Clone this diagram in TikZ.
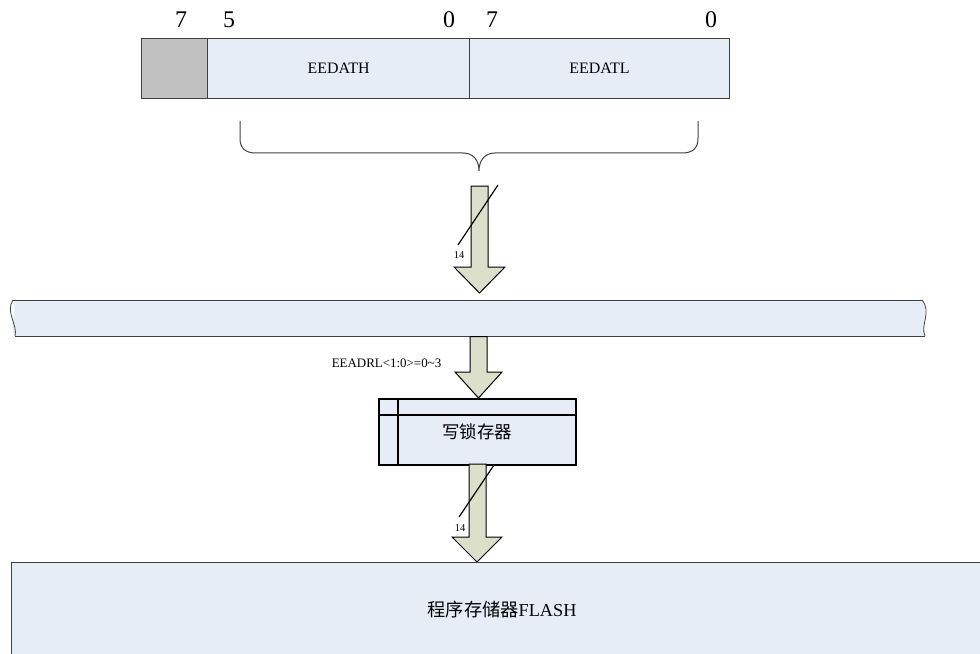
\documentclass[tikz,border=0pt]{standalone}
\usepackage{fontspec}
\setmainfont{Liberation Serif}
\newfontfamily\cjk{Noto Sans CJK SC}
\usetikzlibrary{calc}
\definecolor{boxblue}{HTML}{E6EDF7}
\definecolor{regray}{HTML}{C0C0C0}
\definecolor{arrowfill}{HTML}{DCE0CB}
\definecolor{edge}{HTML}{404040}
\tikzset{
  regbox/.style={draw=edge, line width=1.1bp, minimum height=60bp, anchor=north west, inner sep=0pt, font=\fontsize{16}{18}\selectfont},
  bitlbl/.style={font=\fontsize{24}{26}\selectfont, inner sep=0pt},
  blockarrow/.style={draw=black, fill=arrowfill, line width=1bp, line join=miter},
  slash/.style={draw=black, line width=1.2bp},
  widthlbl/.style={font=\fontsize{10.5}{12}\selectfont, inner sep=0pt},
}
\begin{document}
\begin{tikzpicture}[x=1bp,y=-1bp]
\useasboundingbox (0,0) rectangle (980,654);
% register
\node[regbox, fill=regray, minimum width=66bp] (g) at (141,38) {};
\node[regbox, fill=boxblue, minimum width=262bp] (hi) at (207,38) {EEDATH};
\node[regbox, fill=boxblue, minimum width=260bp] (lo) at (469,38) {EEDATL};
\node[bitlbl] (b7a) at (181,20) {7};
\node[bitlbl] (b5) at (229,20) {5};
\node[bitlbl] (b0a) at (449,20) {0};
\node[bitlbl] (b7b) at (492,20) {7};
\node[bitlbl] (b0b) at (711,20) {0};
% brace
\draw[edge, line width=1bp] (240,121) -- (240,138) .. controls (240,148) and (245,153) .. (256,153)
  -- (463,153) .. controls (473,153) and (479,160) .. (479,171)
  .. controls (479,160) and (485,153) .. (495,153)
  -- (682,153) .. controls (693,153) and (698,148) .. (698,138) -- (698,121);
% arrow 1
\draw[blockarrow] (471,186) -- (488,186) -- (488,267) -- (505,267) -- (479.5,293) -- (454,267) -- (471,267) -- cycle;
\coordinate (s1a) at (498,185);
\coordinate (s1b) at (458,245);
\draw[slash] (s1a) -- (s1b);
\node[widthlbl] (w1) at (459,255) {14};
% bus
\fill[boxblue] (13,300) -- (922,300) .. controls (930,310) and (920,322) .. (925,336) -- (15,336) .. controls (8,325) and (18,312) .. (13,300) -- cycle;
\draw[edge, line width=1bp] (13,300) -- (922,300);
\draw[edge, line width=1bp] (15,336) -- (925,336);
\draw[edge, line width=0.8bp] (13,300) .. controls (5,312) and (18,325) .. (15,336);
\draw[edge, line width=0.8bp] (922,300) .. controls (932,312) and (920,325) .. (925,336);
% arrow 2
\draw[blockarrow] (470,336.5) -- (487,336.5) -- (487,372) -- (502,372) -- (478.5,398) -- (455,372) -- (470,372) -- cycle;
\node[font=\fontsize{13}{15}\selectfont, inner sep=0pt] (addr) at (386.5,363) {EEADRL<1:0>=0\textasciitilde 3};
% latch
\node[draw=black, fill=boxblue, line width=1.5bp, minimum width=197bp, minimum height=66bp, anchor=north west, inner sep=0pt] (latch) at (378,398) {};
\draw[black, line width=1.5bp] (378,415) -- (575,415);
\draw[black, line width=1.5bp] (398,398) -- (398,464);
\node[font=\cjk\fontsize{17.5}{19}\selectfont, inner sep=0pt] (latchtxt) at (477,432) {写锁存器};
% arrow 3
\draw[blockarrow] (469,464) -- (486,464) -- (486,537) -- (502,537) -- (477,562) -- (452,537) -- (469,537) -- cycle;
\coordinate (s2a) at (494,465);
\coordinate (s2b) at (459,517);
\draw[slash] (s2a) -- (s2b);
\node[widthlbl] (w2) at (460,528) {14};
% flash
\node[draw=edge, fill=boxblue, line width=1.1bp, minimum width=990bp, minimum height=110bp, anchor=north west, inner sep=0pt] (flash) at (11,562) {};
\node[inner sep=0pt, font=\fontsize{18.3}{20}\selectfont] (flashtxt) at (502,610) {{\cjk 程序存储器}FLASH};
\end{tikzpicture}
\end{document}
